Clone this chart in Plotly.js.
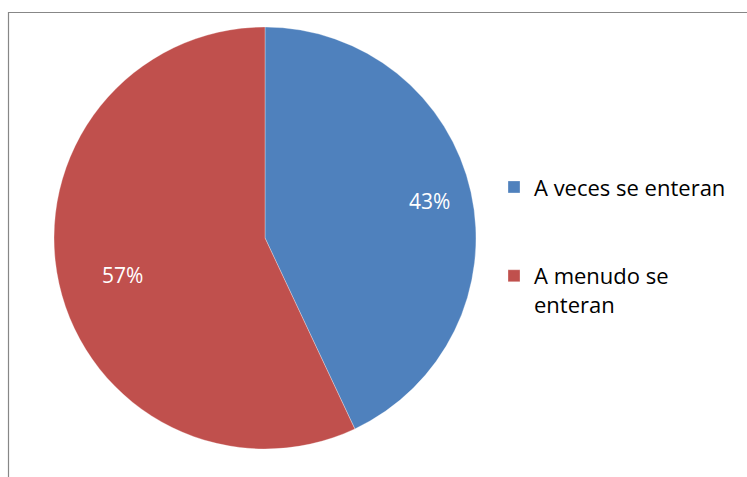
<!DOCTYPE html>
<html>
<head>
<meta charset="utf-8">
<script src="https://cdn.plot.ly/plotly-3.0.1.min.js"></script>
<style>html,body{margin:0;padding:0;background:#fff;}#chart{width:747px;height:477px;}</style>
</head>
<body>
<div id="chart"></div>
<script>
var categories = ["A veces se enteran", "A menudo se enteran"];
var values = [43, 57];
var colors = ["#4F81BD", "#C0504D"];

// legend labels: wrap long category, and add spacing after first entry
var legendLabels = ["A veces se enteran<br> <br> ", "A menudo se<br>enteran"];

var FONT = "Open Sans, Calibri, Arial, sans-serif";
var W = 747, H = 477;
var domX = [54/W, 476/W], domY = [28/H, 450/H];

var trace = {
  type: "pie",
  labels: legendLabels,
  values: values,
  sort: false,
  direction: "clockwise",
  rotation: 0,
  marker: {colors: colors, line: {color: "rgba(255,255,255,0.6)", width: 0.5}},
  textinfo: "none",
  hoverinfo: "label+percent",
  domain: {x: domX, y: domY}
};

// percentage labels placed along each slice's mid-angle (Excel-style, near the rim)
var total = values.reduce(function(a, b){ return a + b; }, 0);
var cxPx = (domX[0] + domX[1]) / 2 * W, cyPx = (domY[0] + domY[1]) / 2 * H;
var rPx = Math.min((domX[1]-domX[0]) * W, (domY[1]-domY[0]) * H) / 2;
var annotations = [];
var cum = 0;
values.forEach(function(v){
  var mid = (cum + v / 2) / total * 2 * Math.PI;
  cum += v;
  var px = cxPx + 0.8 * rPx * Math.sin(mid);
  var py = cyPx + 0.8 * rPx * Math.cos(mid);
  annotations.push({
    xref: "paper", yref: "paper", x: px / W, y: py / H,
    text: Math.round(v / total * 100) + "%", showarrow: false,
    font: {color: "#ffffff", size: 21, family: FONT}
  });
});

var layout = {
  width: W, height: H,
  margin: {l: 0, r: 0, t: 0, b: 0},
  paper_bgcolor: "#ffffff",
  showlegend: true,
  legend: {
    x: 494/W, y: 0.485, xanchor: "left", yanchor: "middle",
    valign: "top",
    font: {size: 22, family: FONT, color: "#000000"},
    itemwidth: 30
  },
  annotations: annotations,
  shapes: [{
    type: "rect", xref: "paper", yref: "paper",
    x0: 8.5/W, x1: 1.05, y0: -0.05, y1: (H-12.5)/H,
    line: {color: "#878787", width: 1.2}
  }]
};

Plotly.newPlot("chart", [trace], layout, {displayModeBar: false, staticPlot: true});
</script>
</body>
</html>
